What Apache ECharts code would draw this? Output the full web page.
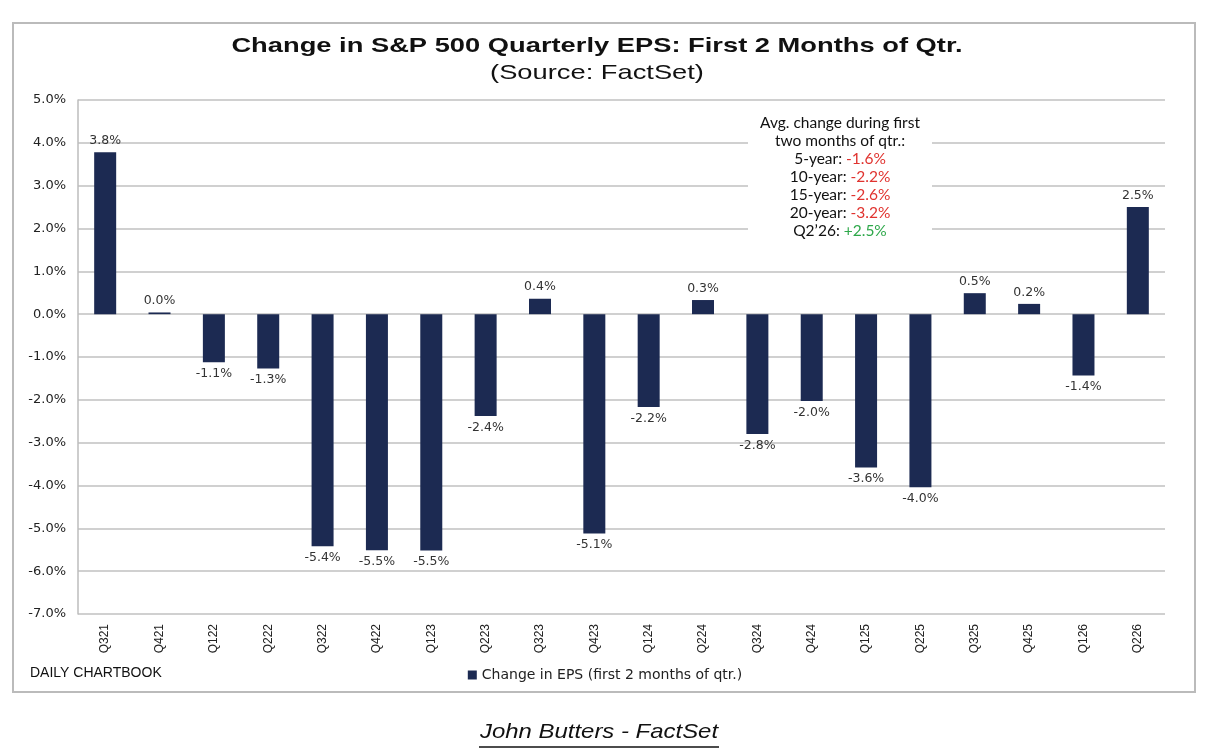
<!DOCTYPE html>
<html>
<head>
    <meta charset="utf-8">
    <title>Change in S&amp;P 500 Quarterly EPS</title>
    <script src="https://cdn.jsdelivr.net/npm/echarts@6/dist/echarts.min.js"></script>
    <style>
        html, body { margin: 0; padding: 0; background: #fff; }
    </style>
</head>
<body>
    <div id="main" style="width: 1210px;height:756px;"></div>
    <script type="text/javascript">
        // data
        var quarters = ["Q321", "Q421", "Q122", "Q222", "Q322", "Q422", "Q123", "Q223", "Q323", "Q423",
            "Q124", "Q224", "Q324", "Q424", "Q125", "Q225", "Q325", "Q425", "Q126", "Q226"];
        var epsChange = [3.78, 0.04, -1.12, -1.27, -5.42, -5.51, -5.52, -2.38, 0.36, -5.12,
            -2.17, 0.33, -2.8, -2.03, -3.58, -4.04, 0.49, 0.24, -1.43, 2.5];
        var avgLabels = ["5-year: ", "10-year: ", "15-year: ", "20-year: "];
        var avgValues = ["-1.6%", "-2.2%", "-2.6%", "-3.2%"];
        var currentLabel = "Q2\u201926: ";
        var currentValue = "+2.5%";

        var myChart = echarts.init(document.getElementById('main'));

        var noteLines = ["Avg. change during first", "two months of qtr.:"];
        for (var i = 0; i < avgLabels.length; i++) {
            noteLines.push("{k|" + avgLabels[i] + "}{r|" + avgValues[i] + "}");
        }
        noteLines.push("{k|" + currentLabel + "}{g|" + currentValue + "}");

        var seriesName = 'Change in EPS (first 2 months of qtr.)';

        var option = {
            backgroundColor: '#fff',
            animation: false,
            legend: {
                data: [seriesName],
                left: 'center',
                top: 663,
                itemWidth: 9,
                itemHeight: 9,
                itemGap: 6,
                icon: 'rect',
                textStyle: { fontFamily: 'DejaVu Sans', fontSize: 14, color: '#222' }
            },
            grid: { left: 78, right: 45, top: 100, bottom: 142 },
            xAxis: {
                type: 'category',
                data: quarters,
                axisLine: { show: false },
                axisTick: { show: false },
                axisLabel: {
                    rotate: 90,
                    margin: 10,
                    fontFamily: 'Liberation Sans',
                    fontSize: 12,
                    color: '#222'
                }
            },
            yAxis: {
                type: 'value',
                min: -7,
                max: 5,
                interval: 1,
                axisLine: { show: true, lineStyle: { color: '#bdbdbd', width: 1.5 } },
                axisTick: { show: false },
                splitLine: { lineStyle: { color: '#c0c0c0', width: 1.5 } },
                axisLabel: {
                    margin: 12,
                    fontFamily: 'DejaVu Sans',
                    fontSize: 13,
                    color: '#222',
                    formatter: function (v) { return v.toFixed(1) + '%'; }
                }
            },
            series: [{
                name: seriesName,
                type: 'bar',
                data: epsChange.map(function (v) {
                    return {
                        value: v,
                        label: { position: v >= 0 ? 'top' : 'bottom' }
                    };
                }),
                barWidth: 22,
                itemStyle: { color: '#1c2a52' },
                label: {
                    show: true,
                    distance: 5,
                    fontFamily: 'DejaVu Sans',
                    fontSize: 12.5,
                    color: '#333',
                    formatter: function (p) { return p.value.toFixed(1) + '%'; }
                }
            }],
            graphic: [{
                // outer frame
                type: 'rect',
                shape: { x: 13, y: 23, width: 1182, height: 669 },
                style: { fill: 'none', stroke: '#bbb', lineWidth: 2 },
                silent: true
            }, {
                type: 'text',
                x: 597,
                y: 36,
                scaleX: 1.3,
                style: {
                    text: 'Change in S&P 500 Quarterly EPS: First 2 Months of Qtr.',
                    align: 'center',
                    fontFamily: 'Liberation Sans',
                    fontSize: 21,
                    fontWeight: 'bold',
                    fill: '#111'
                }
            }, {
                type: 'text',
                x: 597,
                y: 63,
                scaleX: 1.3,
                style: {
                    text: '(Source: FactSet)',
                    align: 'center',
                    fontFamily: 'Liberation Sans',
                    fontSize: 21,
                    fill: '#111'
                }
            }, {
                type: 'rect',
                shape: { x: 748, y: 110, width: 184, height: 132 },
                style: { fill: '#fff' },
                z: 50
            }, {
                type: 'text',
                x: 840,
                y: 114,
                z: 51,
                style: {
                    text: noteLines.join('\n'),
                    align: 'center',
                    fontFamily: 'Lato',
                    fontSize: 15.5,
                    lineHeight: 18,
                    fill: '#111',
                    rich: {
                        k: { fontFamily: 'Lato', fontSize: 15.5, fill: '#111' },
                        r: { fontFamily: 'Lato', fontSize: 15.5, fill: '#e0332f' },
                        g: { fontFamily: 'Lato', fontSize: 15.5, fill: '#2ea84a' }
                    }
                }
            }, {
                type: 'text',
                x: 30,
                y: 666,
                style: {
                    text: 'DAILY CHARTBOOK',
                    fontFamily: 'Liberation Sans',
                    fontSize: 14,
                    fill: '#111'
                }
            }, {
                type: 'text',
                x: 599,
                y: 722,
                scaleX: 1.14,
                style: {
                    text: 'John Butters - FactSet',
                    align: 'center',
                    fontFamily: 'Liberation Sans',
                    fontSize: 21,
                    fontStyle: 'italic',
                    fill: '#111'
                }
            }, {
                type: 'line',
                shape: { x1: 479, y1: 747, x2: 719, y2: 747 },
                style: { stroke: '#111', lineWidth: 1.5 }
            }]
        };

        myChart.setOption(option);
    </script>
</body>
</html>
